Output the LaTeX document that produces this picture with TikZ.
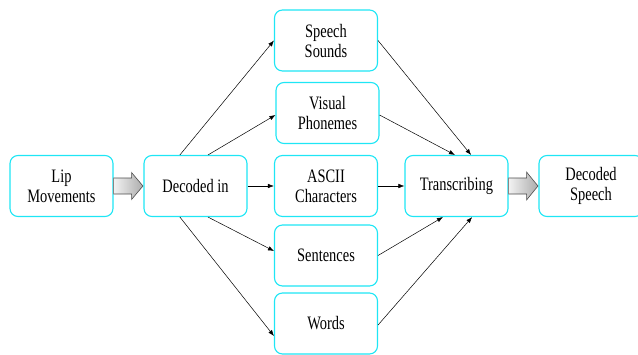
\documentclass[tikz,border=0pt]{standalone}
\usepackage{fontspec}
\setmainfont{Liberation Serif}[FakeStretch=0.76]
\usetikzlibrary{calc,arrows.meta}
\definecolor{boxcyan}{RGB}{30,230,245}
\tikzset{
  box/.style={draw=boxcyan, line width=1.1pt, rounded corners=8pt, fill=white,
    minimum width=103pt, minimum height=61pt, inner sep=0pt, align=center,
    font=\fontsize{19}{20}\selectfont},
  thin/.style={line width=0.5pt, -{Latex[length=6pt,width=4.5pt]}},
  fat/.style={draw=black!70, line width=0.6pt, left color=gray!10, right color=gray!65}
}
\begin{document}
\begin{tikzpicture}[x=1pt,y=-1pt]
\useasboundingbox (0,0) rectangle (638,354);
\node[box] (lip) at (61.5,186) {Lip\\Movements};
\node[box] (dec) at (195.5,186) {Decoded in};
\node[box] (ss) at (326,40.5) {Speech\\Sounds};
\node[box] (vp) at (327.5,113) {Visual\\Phonemes};
\node[box] (ascii) at (326,186) {ASCII\\Characters};
\node[box] (sent) at (326,255.5) {Sentences};
\node[box] (words) at (326,323.5) {Words};
\node[box] (trans) at (456.5,186) {Transcribing};
\node[box, minimum width=104pt] (ds) at (591,186) {Decoded\\Speech};
% big arrows
\path[fat] ($(lip.east)+(0,-8)$) -- ++(18,0) -- ++(0,-5.5) -- ($(dec.west)+(-0.5,0)$)
  -- ($(lip.east)+(18,13.5)$) -- ++(0,-5.5) -- ($(lip.east)+(0,8)$) -- cycle;
\path[fat] ($(trans.east)+(0,-8)$) -- ++(18,0) -- ++(0,-6) -- ($(ds.west)+(-0.5,0)$)
  -- ($(trans.east)+(18,14)$) -- ++(0,-6) -- ($(trans.east)+(0,8)$) -- cycle;
% thin arrows from Decoded in
\draw[thin] ($(dec.north west)!0.35!(dec.north east)$) -- (ss.west);
\draw[thin] ($(dec.north west)!0.62!(dec.north east)$) -- ($(vp.west)+(0,2)$);
\draw[thin] (dec.east) -- (ascii.west);
\draw[thin] ($(dec.south west)!0.62!(dec.south east)$) -- ($(sent.west)+(0,-4.5)$);
\draw[thin] ($(dec.south west)!0.35!(dec.south east)$) -- ($(words.west)+(0,12.5)$);
% thin arrows into Transcribing
\draw[thin] (ss.east) -- ($(trans.north west)!0.64!(trans.north east)$);
\draw[thin] ($(vp.east)+(0,2)$) -- ($(trans.north west)!0.485!(trans.north east)$);
\draw[thin] (ascii.east) -- (trans.west);
\draw[thin] (sent.east) -- ($(trans.south west)!0.37!(trans.south east)$);
\draw[thin] ($(words.east)+(0,1.5)$) -- ($(trans.south west)!0.65!(trans.south east)$);
\end{tikzpicture}
\end{document}
